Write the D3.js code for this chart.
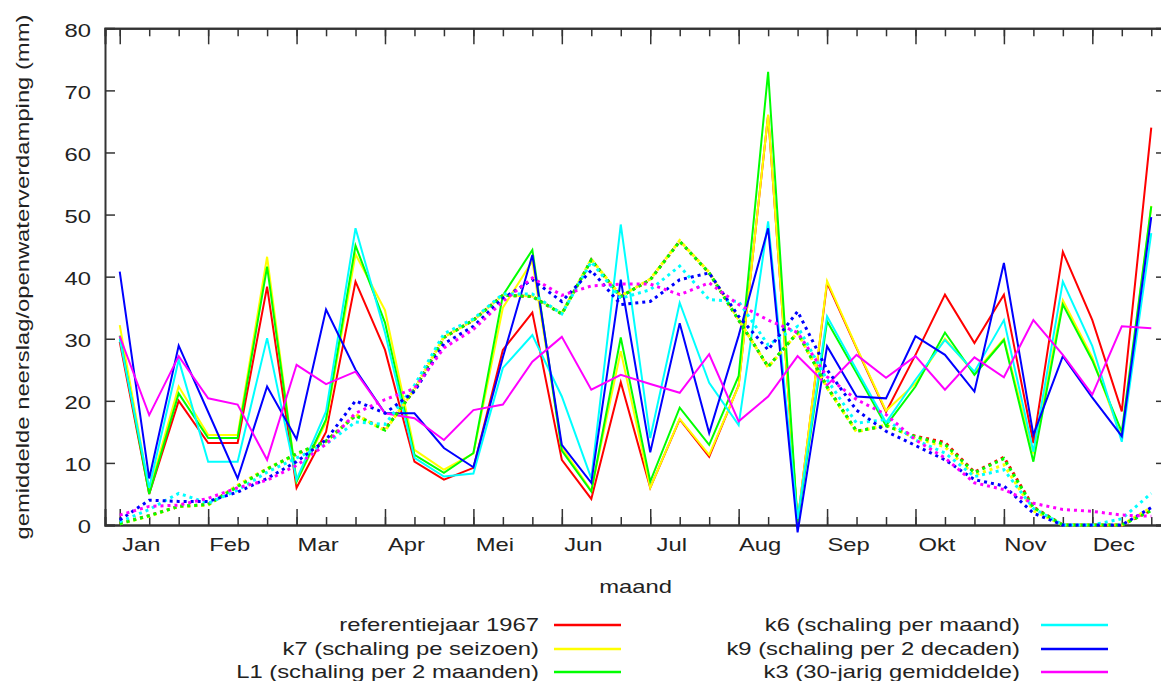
<!DOCTYPE html>
<html>
<head>
<meta charset="utf-8">
<script src="https://cdn.jsdelivr.net/npm/d3@7"></script>
<style>
  body { margin: 0; background: #ffffff; }
  svg { display: block; }
  text { font-family: "Liberation Sans", Arial, sans-serif; fill: #222222; }
</style>
</head>
<body>
<svg id="chart" width="1161" height="681"></svg>
<script>
// Decades of the year (three per month)
const decades = [1,2,3,4,5,6,7,8,9,10,11,12,13,14,15,16,17,18,
                 19,20,21,22,23,24,25,26,27,28,29,30,31,32,33,34,35,36];
const monthStarts = [1,4,7,10,13,16,19,22,25,28,31,34];
const monthLabels = ["Jan","Feb","Mar","Apr","Mei","Jun","Jul","Aug","Sep","Okt","Nov","Dec"];
const yTicks = [0,10,20,30,40,50,60,70,80];

// Neerslag per decade (mm) - solid lines
const neerslagRef = [29.5,5,20,13.2,13.2,38.4,6,15,39.2,28.2,10.2,7.3,9.2,28.2,34.2,10.5,4.2,23,6,17,11,22.5,66,0.5,39,28.5,18.2,27.4,37.1,29.3,37.1,13.2,44,33,18.3,64];
const neerslagK7  = [32.2,5.5,22.3,14.5,14.5,43.2,7,16.5,43.6,34.6,12.1,8.9,11.5,35,42.5,12.5,5.5,28,6,17.1,11.3,22.4,66.1,0.5,39.3,28.6,18.4,22.8,30,24.5,30,11.5,36.2,27,14,51.4];
const neerslagL1  = [30.5,5,21.2,14,14,41.6,7,17,45,32.6,11.3,8.4,11.6,37,44.3,12,5.4,30.2,7,18.9,12.9,24,73,0.5,32.8,24.5,16,22.3,31,24.2,29.8,10.2,35.5,26.5,15,51.3];
const neerslagK6  = [30,6,26.6,10.2,10.2,30.1,7.3,18.3,47.8,31,10.8,7.8,8.3,25.3,30.6,20.7,7.5,48.4,14,35.8,22.9,16.1,48.9,1,33.6,25,16.5,23.4,29.8,24.7,33,11.8,39.2,28.8,13.4,47];
const neerslagK9  = [40.8,7.5,28.9,18.2,7.5,22.3,13.8,34.7,25,18,18,12.4,9.3,27,43.5,12.9,6.8,39.5,11.7,32.5,14.8,30.5,47.8,-1.2,28.8,20.7,20.4,30.4,27.4,21.5,42.2,14.5,27.2,20.5,14.3,49.6];
const neerslagK3  = [30.4,17.7,27.2,20.4,19.4,10.5,25.8,22.7,24.7,18,17.2,13.7,18.5,19.4,26.3,30.3,21.8,24.2,22.7,21.3,27.5,16.7,20.7,27.2,22.5,27.4,23.7,27.2,21.8,27,23.8,33,27.4,21,32,31.7];

// Openwaterverdamping per decade (mm) - dotted lines
const verdampingRef = [0.3,1.5,3,3.3,6.3,9,11.4,13.5,17.7,15.4,21.8,30.2,33,37,36.8,34,42.7,36.8,39.5,45.7,40.6,33,25.5,31,22.3,15.1,16,14.3,13.3,8.5,10.9,2.9,0,0,0,2.4];
const verdampingK7  = [0.2,1.4,3,3.2,6.4,9.1,11.4,13.4,17.8,15.2,21.9,30.3,33,37.1,36.9,34.1,42.8,36.9,39.6,45.8,40.7,33.1,25.4,31,22.1,15,16.1,14,12.6,8,9.7,2.3,0,0,0,2.8];
const verdampingL1  = [0.2,1.5,3,3.3,6.2,9,11.5,13.5,17.6,15.3,21.8,30.2,33,37,36.8,34,42.7,36.8,39.5,45.7,40.6,33,25.5,31,22.2,15.1,16,14.2,13,8.4,10.7,2.8,0,0,0,2.3];
const verdampingK6  = [0.5,2.5,5.1,3.5,5.6,8.5,10.8,13,16.6,16.2,22.5,30.8,33.2,37.2,37.2,34,42.4,36.5,37.9,41.7,36.3,36,29,32,23.4,16.4,17,13.7,11.6,7.8,8.9,2.7,0,0,1,5.1];
const verdampingK9  = [0.8,4,3.8,3.8,5.3,7.5,10.2,13.7,20,18,21.5,29.2,32,36.5,39.5,36,41,35.5,36,39.5,40.6,33.6,28.2,34.4,25,18.5,15.1,12.8,10.5,7.3,6.3,1.9,0,0,0,2.8];
const verdampingK3  = [1.6,3,3.2,4.3,6,7.2,9.6,13,18,20.2,22,28.5,31.5,36,39.8,37,38.5,38.8,38.8,37.1,39,35.5,33,31,23.9,20.2,17.8,13.7,10.8,6.8,5.7,3.5,2.5,2.2,1.6,1.4];

const seriesNames  = ["referentiejaar 1967","k7 (schaling pe seizoen)","L1 (schaling per 2 maanden)",
                      "k6 (schaling per maand)","k9 (schaling per 2 decaden)","k3 (30-jarig gemiddelde)"];
const seriesColors = ["#ff0000","#ffff00","#00ff00","#00ffff","#0000ff","#ff00ff"];
const neerslag   = [neerslagRef, neerslagK7, neerslagL1, neerslagK6, neerslagK9, neerslagK3];
const verdamping = [verdampingRef, verdampingK7, verdampingL1, verdampingK6, verdampingK9, verdampingK3];

// Layout
const svg = d3.select("#chart");
const plotLeft = 105, plotRight = 1166, plotTop = 28.3, plotBottom = 525;
const WIDE = 1.36;           // horizontal stretch of the label font
const FS = 17.5;

const x = d3.scaleLinear().domain([0.5, 36.5]).range([plotLeft, plotRight]);
const y = d3.scaleLinear().domain([0, 80]).range([plotBottom, plotTop]);

const axisColor = "#333333";

function styleAxis(g) {
  g.select(".domain").attr("stroke", axisColor).attr("stroke-width", 2);
  g.selectAll(".tick line").attr("stroke", axisColor).attr("stroke-width", 1.5);
}

// Minor (decade) ticks, bottom and top
svg.append("g").attr("transform", `translate(0,${plotBottom})`)
  .call(d3.axisBottom(x).tickValues(decades).tickSize(-8).tickFormat(""))
  .call(styleAxis);
svg.append("g").attr("transform", `translate(0,${plotTop})`)
  .call(d3.axisTop(x).tickValues(decades).tickSize(-8).tickFormat(""))
  .call(styleAxis);

// Major (month) ticks with month labels
const xAxis = svg.append("g").attr("transform", `translate(0,${plotBottom})`)
  .call(d3.axisBottom(x).tickValues(monthStarts).tickSize(-16).tickPadding(14)
        .tickFormat((d, i) => monthLabels[i]))
  .call(styleAxis);
xAxis.selectAll("text")
  .attr("font-size", FS)
  .attr("x", 21 / WIDE)
  .attr("transform", `scale(${WIDE},1)`)
  .style("font-family", "'Liberation Sans', Arial, sans-serif")
  .attr("fill", "#222222");

svg.append("g").attr("transform", `translate(0,${plotTop})`)
  .call(d3.axisTop(x).tickValues(monthStarts).tickSize(-16).tickFormat(""))
  .call(styleAxis);

// Y axes
const yAxis = svg.append("g").attr("transform", `translate(${plotLeft},0)`)
  .call(d3.axisLeft(y).tickValues(yTicks).tickSize(-10).tickPadding(14).tickFormat(d3.format("d")))
  .call(styleAxis);
yAxis.selectAll("text")
  .attr("font-size", FS)
  .attr("x", -14 / WIDE)
  .attr("dy", "0.45em")
  .attr("transform", `scale(${WIDE},1)`)
  .style("font-family", "'Liberation Sans', Arial, sans-serif")
  .attr("fill", "#222222");

svg.append("g").attr("transform", `translate(${plotRight},0)`)
  .call(d3.axisRight(y).tickValues(yTicks).tickSize(-10).tickFormat(""))
  .call(styleAxis);

// Axis titles
svg.append("text")
  .attr("transform", `translate(${(plotLeft + plotRight) / 2},593) scale(${WIDE},1)`)
  .attr("text-anchor", "middle")
  .attr("font-size", FS)
  .text("maand");

svg.append("text")
  .attr("transform", `translate(29,277) rotate(-90) scale(${WIDE},1)`)
  .attr("text-anchor", "middle")
  .attr("font-size", FS)
  .text("gemiddelde neerslag/openwaterverdamping (mm)");

// Series lines
const line = d3.line().x((d, i) => x(decades[i])).y(d => y(d));
const plot = svg.append("g");

seriesNames.forEach((name, s) => {
  plot.append("path")
    .datum(neerslag[s])
    .attr("d", line)
    .attr("fill", "none")
    .attr("stroke", seriesColors[s])
    .attr("stroke-width", 2)
    .attr("stroke-linejoin", "miter");
});
seriesNames.forEach((name, s) => {
  plot.append("path")
    .datum(verdamping[s])
    .attr("d", line)
    .attr("fill", "none")
    .attr("stroke", seriesColors[s])
    .attr("stroke-width", 3)
    .attr("stroke-dasharray", "3,4");
});

// Legend: two columns of three rows
const legendRows = [625, 649, 672];
const legendCols = [{textRight: 539, lineStart: 554, lineEnd: 621},
                    {textRight: 1020, lineStart: 1041, lineEnd: 1108}];
const legend = svg.append("g");
seriesNames.forEach((name, s) => {
  const col = legendCols[Math.floor(s / 3)];
  const ry = legendRows[s % 3];
  legend.append("text")
    .attr("transform", `translate(${col.textRight},${ry + 6}) scale(${WIDE},1)`)
    .attr("text-anchor", "end")
    .attr("font-size", FS)
    .text(name);
  legend.append("line")
    .attr("x1", col.lineStart).attr("x2", col.lineEnd)
    .attr("y1", ry).attr("y2", ry)
    .attr("stroke", seriesColors[s])
    .attr("stroke-width", 2.5);
});
</script>
</body>
</html>
